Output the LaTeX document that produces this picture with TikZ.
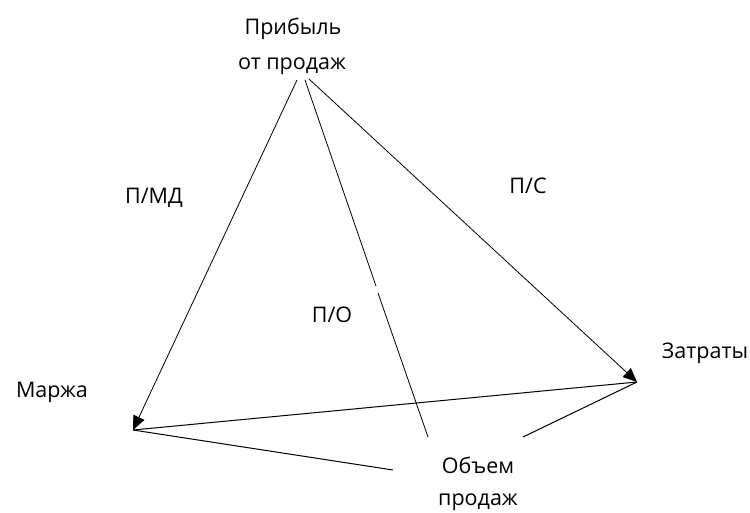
\documentclass[tikz,border=0pt]{standalone}
\usepackage{fontspec}
\setmainfont{Open Sans}
\usetikzlibrary{arrows.meta}
\begin{document}
\begin{tikzpicture}[x=1pt,y=1pt,
  lbl/.style={inner sep=0pt,anchor=base,font=\fontsize{21.5}{26}\selectfont},
  edge/.style={line width=0.8pt,black},
  arr/.style={edge,-{Triangle[length=14pt,width=12pt]}}]
\useasboundingbox (0,0) rectangle (750,-513);
% labels
\node[lbl] (prib1) at (293,-35) {Прибыль};
\node[lbl] (prib2) at (292,-70) {от продаж};
\node[lbl] (marzha) at (52,-397) {Маржа};
\node[lbl] (zatr) at (705,-358) {Затраты};
\node[lbl] (ob1) at (478,-473) {Объем};
\node[lbl] (ob2) at (478,-505) {продаж};
\node[lbl] (pmd) at (154,-204) {П/МД};
\node[lbl] (ps) at (528,-194) {П/С};
\node[lbl] (po) at (332,-322) {П/О};
% connector points
\coordinate (A1) at (297,-80);
\coordinate (A2) at (305,-80);
\coordinate (A3) at (309,-79);
\coordinate (M) at (133,-430);
\coordinate (Z) at (637,-382);
\coordinate (G1) at (376,-286);
\coordinate (G2) at (378,-293);
\coordinate (O1) at (393,-470);
\coordinate (O2) at (428,-437);
\coordinate (O3) at (523,-437);
% connectors
\draw[arr] (A1) -- (M);
\draw[arr] (A3) -- (Z);
\draw[edge] (A2) -- (G1);
\draw[edge] (G2) -- (O2);
\draw[edge,line width=1pt] (M) -- (Z);
\draw[edge,line width=1pt] (M) -- (O1);
\draw[edge,line width=1pt] (Z) -- (O3);
\end{tikzpicture}
\end{document}
